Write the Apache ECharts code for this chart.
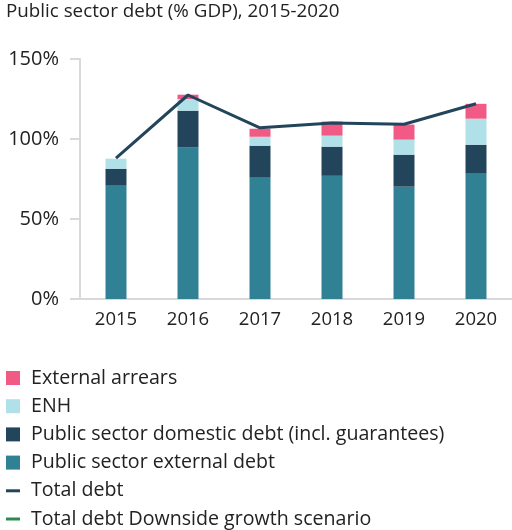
<!DOCTYPE html>
<html>
<head>
<meta charset="utf-8">
<script src="https://cdn.jsdelivr.net/npm/echarts@6/dist/echarts.min.js"></script>
<style>
  html, body { margin: 0; padding: 0; background: #fff; }
  #chart { width: 512px; height: 530px; }
</style>
</head>
<body>
<div id="chart"></div>
<script>
var years = ['2015', '2016', '2017', '2018', '2019', '2020'];
var externalDebt = [70.8, 94.6, 75.8, 77, 70.2, 78.3];
var domesticDebt = [10.6, 23.1, 20, 18.2, 20, 18.1];
var enh = [6.3, 7.3, 5.6, 6.9, 9.4, 16.3];
var externalArrears = [0, 2.7, 5, 8.8, 9.4, 9.3];
var totalDebt = [88, 127.5, 107, 110, 109.2, 122];
var totalDebtDownside = [];

var font = 'Open Sans';
var lineIcon = 'path://M0,0h14v3h-14z';
var chart = echarts.init(document.getElementById('chart'));

var option = {
    animation: false,
    textStyle: { fontFamily: font },
    title: {
        text: 'Public sector debt (% GDP), 2015-2020',
        left: 6,
        top: 2,
        padding: 0,
        textStyle: { fontFamily: font, fontSize: 18.8, fontWeight: 'normal', color: '#222' }
    },
    legend: {
        orient: 'vertical',
        left: 6,
        top: 368,
        height: 200,
        padding: 0,
        itemWidth: 14,
        itemHeight: 14,
        itemGap: 8.2,
        textStyle: { fontFamily: font, fontSize: 19.6, color: '#222', padding: [0, 0, 0, 6] },
        data: [
            { name: 'External arrears', icon: 'rect' },
            { name: 'ENH', icon: 'rect' },
            { name: 'Public sector domestic debt (incl. guarantees)', icon: 'rect' },
            { name: 'Public sector external debt', icon: 'rect' },
            { name: 'Total debt', icon: lineIcon },
            { name: 'Total debt Downside growth scenario', icon: lineIcon }
        ]
    },
    grid: { left: 80, right: 0, top: 59, bottom: 231 },
    xAxis: {
        type: 'category',
        data: years,
        axisLine: { lineStyle: { color: '#d9d9d9', width: 2 } },
        axisTick: { show: false },
        axisLabel: { fontSize: 18.5, color: '#222', margin: 11 }
    },
    yAxis: {
        type: 'value',
        min: 0,
        max: 150,
        interval: 50,
        axisLine: { show: true, lineStyle: { color: '#d9d9d9', width: 2 } },
        axisTick: { show: true, length: 10, lineStyle: { color: '#d9d9d9', width: 2 } },
        splitLine: { show: false },
        axisLabel: { fontSize: 20, color: '#222', margin: 21, formatter: '{value}%' }
    },
    series: [
        {
            name: 'Public sector external debt',
            type: 'bar',
            stack: 'debt',
            barWidth: 21,
            itemStyle: { color: '#318195' },
            data: externalDebt
        },
        {
            name: 'Public sector domestic debt (incl. guarantees)',
            type: 'bar',
            stack: 'debt',
            itemStyle: { color: '#23455b' },
            data: domesticDebt
        },
        {
            name: 'ENH',
            type: 'bar',
            stack: 'debt',
            itemStyle: { color: '#b0e0e8' },
            data: enh
        },
        {
            name: 'External arrears',
            type: 'bar',
            stack: 'debt',
            itemStyle: { color: '#f05a84' },
            data: externalArrears
        },
        {
            name: 'Total debt',
            type: 'line',
            symbol: 'none',
            lineStyle: { color: '#23455b', width: 3 },
            itemStyle: { color: '#23455b' },
            data: totalDebt
        },
        {
            name: 'Total debt Downside growth scenario',
            type: 'line',
            symbol: 'none',
            lineStyle: { color: '#2e8b4e', width: 3 },
            itemStyle: { color: '#2e8b4e' },
            data: totalDebtDownside
        }
    ]
};
chart.setOption(option);
</script>
</body>
</html>
